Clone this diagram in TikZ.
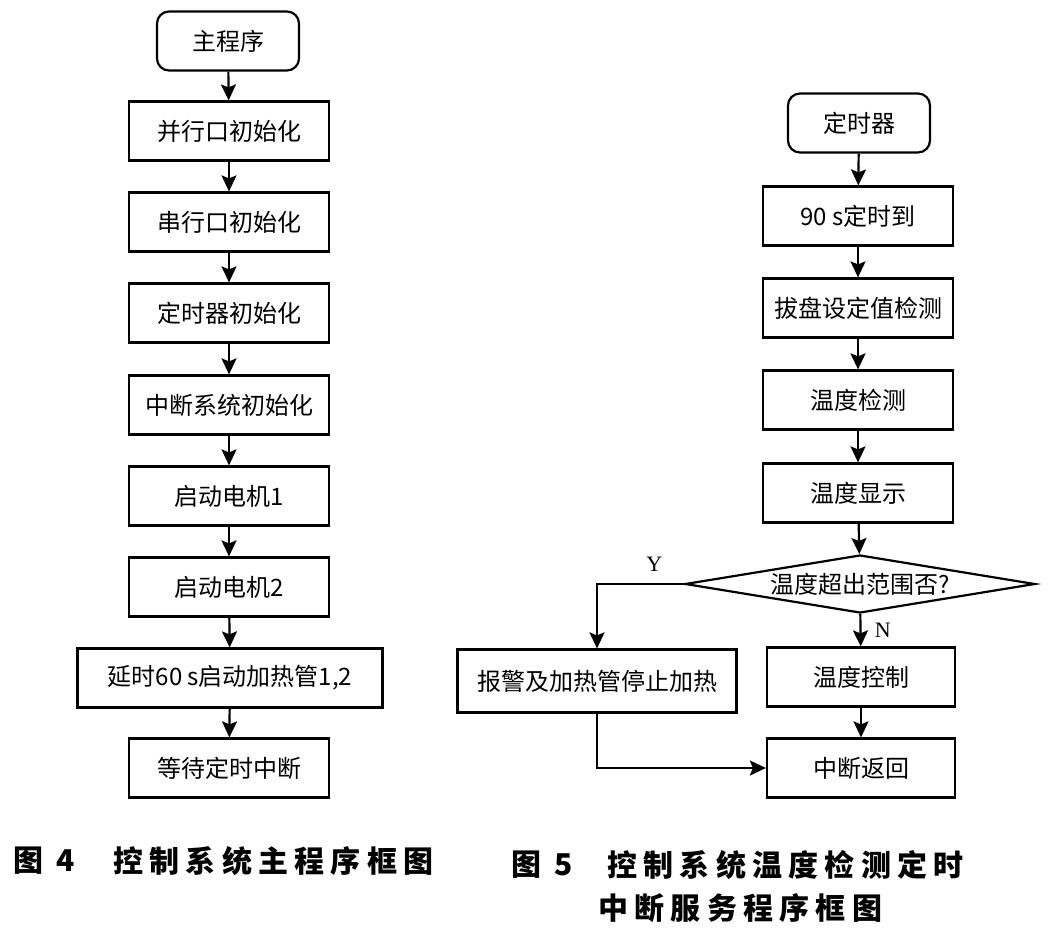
\documentclass[tikz,border=0pt]{standalone}
\usepackage{fontspec}
\usepackage{tikz}
\usetikzlibrary{arrows.meta,shapes.geometric}
\newfontfamily\cjk{Noto Sans CJK SC}
\newfontfamily\capfont[LetterSpace=21]{Noto Sans CJK SC}
\newfontfamily\yn{Liberation Serif}

\tikzset{
  prog/.style={draw,line width=2.2pt,minimum width=200pt,minimum height=59pt,inner sep=2pt,font=\cjk\fontsize{24}{28}\selectfont},
  rprog/.style={prog,minimum width=190pt},
  term/.style={prog,rounded corners=12pt,minimum width=142pt},
  cond/.style={prog,diamond,aspect=6,inner sep=1pt,minimum width=350pt,minimum height=58pt},
  flow/.style={line width=2.2pt,-{Stealth[length=16pt,width=15pt,inset=3pt]}},
  figcap/.style={anchor=west,inner sep=0pt,font=\capfont\bfseries\fontsize{30}{34}\selectfont},
}

\begin{document}
\begin{tikzpicture}[x=1pt,y=-1pt]
        \useasboundingbox (0,0) rectangle (1049,936);
        % main program
        \node[term] (main) at (228,41) {主程序};
        \node[prog] (par) at (229,131) {并行口初始化};
        \node[prog] (ser) at (229,222) {串行口初始化};
        \node[prog] (tmr) at (229,313) {定时器初始化};
        \node[prog] (intr) at (229,405) {中断系统初始化};
        \node[prog] (mot1) at (229,496) {启动电机1};
        \node[prog] (mot2) at (229,587) {启动电机2};
        \node[prog,minimum width=305pt] (heat) at (230,678) {延时60 s启动加热管1,2};
        \node[prog] (wait) at (229,768) {等待定时中断};
        \draw[flow] (main) -- (par);
        \draw[flow] (par) -- (ser);
        \draw[flow] (ser) -- (tmr);
        \draw[flow] (tmr) -- (intr);
        \draw[flow] (intr) -- (mot1);
        \draw[flow] (mot1) -- (mot2);
        \draw[flow] (mot2) -- (heat);
        \draw[flow] (heat) -- (wait);
        % timer interrupt
        \node[term] (timer) at (859,123) {定时器};
        \node[rprog] (t90) at (858,216) {90 s定时到};
        \node[rprog] (dial) at (858,308) {拔盘设定值检测};
        \node[rprog] (tdet) at (858,400) {温度检测};
        \node[rprog] (tdisp) at (858,493) {温度显示};
        \node[cond] (chk) at (860,584) {温度超出范围否?};
        \node[rprog,minimum width=188pt] (ctrl) at (861,677) {温度控制};
        \node[rprog,minimum width=188pt] (ret) at (861,768) {中断返回};
        \node[prog,minimum width=279pt,minimum height=63pt] (alarm) at (597,681) {报警及加热管停止加热};
        \draw[flow] (timer) -- (t90);
        \draw[flow] (t90) -- (dial);
        \draw[flow] (dial) -- (tdet);
        \draw[flow] (tdet) -- (tdisp);
        \draw[flow] (tdisp) -- (chk);
        \draw[flow] (chk) -- node[right=10pt,font=\yn\fontsize{22}{26}\selectfont]{N} (ctrl);
        \draw[flow] (chk.west) -| node[pos=0.17,above=8pt,font=\yn\fontsize{22}{26}\selectfont]{Y} (alarm);
        \draw[flow] (alarm) |- (ret);
        \draw[flow] (ctrl) -- (ret);
        % captions
        \node[figcap] (cap4) at (13,861) {图 4};
        \node[figcap] (cap4t) at (113,861) {控制系统主程序框图};
        \node[figcap] (cap5) at (511,865) {图 5};
        \node[figcap] (cap5t) at (607,865) {控制系统温度检测定时};
        \node[figcap] (cap5u) at (598,908) {中断服务程序框图};
\end{tikzpicture}
\end{document}
